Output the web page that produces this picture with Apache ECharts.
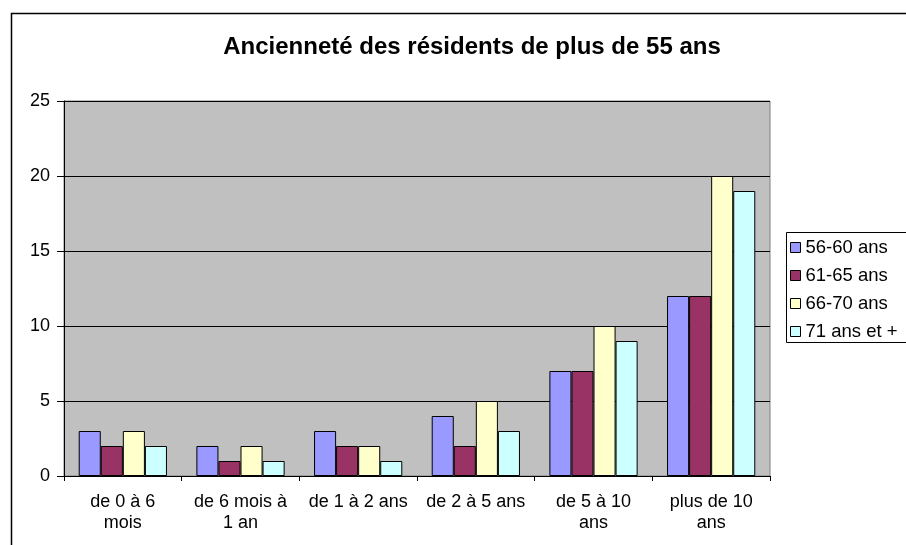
<!DOCTYPE html>
<html>
<head>
<meta charset="utf-8">
<script src="https://cdn.jsdelivr.net/npm/echarts@6/dist/echarts.min.js"></script>
<style>
html, body { margin: 0; padding: 0; background: #fff; }
#chart { width: 906px; height: 545px; }
</style>
</head>
<body>
<div id="chart"></div>
<script>
var categories = ['de 0 à 6\nmois', 'de 6 mois à\n1 an', 'de 1 à 2 ans', 'de 2 à 5 ans', 'de 5 à 10\nans', 'plus de 10\nans']
var seriesNames = ['56-60 ans', '61-65 ans', '66-70 ans', '71 ans et +']
var ans56a60 = [3, 2, 3, 4, 7, 12]
var ans61a65 = [2, 1, 2, 2, 7, 12]
var ans66a70 = [3, 2, 2, 5, 10, 20]
var ans71plus = [2, 1, 1, 3, 9, 19]
var colors = ['#9999FF', '#993366', '#FFFFCC', '#CCFFFF']

var font = 'Liberation Sans, Arial, sans-serif'
var chart = echarts.init(document.getElementById('chart'))

function bar (name, data, color) {
  return {
    name: name,
    type: 'bar',
    data: data,
    barGap: '0%',
    barCategoryGap: '25%',
    itemStyle: { color: color, borderColor: '#000', borderWidth: 1 }
  }
}

var option = {
  animation: false,
  color: colors,
  title: {
    text: 'Ancienneté des résidents de plus de 55 ans',
    left: 467,
    textAlign: 'center',
    top: 30,
    textStyle: { fontFamily: font, fontSize: 24, fontWeight: 'bold', color: '#000' }
  },
  // outer frame and legend box both run off the right edge, as in the original
  graphic: [{
    type: 'rect',
    shape: { x: 11.5, y: 13.5, width: 1000, height: 1000 },
    style: { fill: 'none', stroke: '#000', lineWidth: 1.5 },
    silent: true
  }, {
    type: 'rect',
    shape: { x: 786.5, y: 232.5, width: 200, height: 110 },
    style: { fill: '#fff', stroke: '#000', lineWidth: 1 },
    silent: true,
    z: 1
  }],
  legend: {
    orient: 'vertical',
    left: 786,
    top: 232,
    z: 10,
    itemWidth: 10,
    itemHeight: 10,
    itemGap: 9,
    padding: [6, 4, 8, 4],
    icon: 'rect',
    itemStyle: { borderColor: '#000', borderWidth: 1 },
    textStyle: { fontFamily: font, fontSize: 18.5, color: '#000' },
    data: seriesNames
  },
  grid: {
    left: 64,
    right: 136,
    top: 101,
    bottom: 69,
    show: true,
    backgroundColor: '#C0C0C0',
    borderColor: '#808080',
    borderWidth: 1
  },
  xAxis: {
    type: 'category',
    data: categories,
    axisLine: { lineStyle: { color: '#000', width: 1 } },
    axisTick: { show: true, length: 5, lineStyle: { color: '#000' } },
    axisLabel: { fontFamily: font, fontSize: 18, color: '#000', lineHeight: 21, margin: 16, interval: 0 }
  },
  yAxis: {
    type: 'value',
    min: 0,
    max: 25,
    interval: 5,
    axisLine: { show: true, lineStyle: { color: '#000', width: 1 } },
    axisTick: { show: true, length: 7, lineStyle: { color: '#000' } },
    axisLabel: { fontFamily: font, fontSize: 18, color: '#000', margin: 14 },
    splitLine: { lineStyle: { color: '#000', width: 1 } }
  },
  series: [
    bar(seriesNames[0], ans56a60, colors[0]),
    bar(seriesNames[1], ans61a65, colors[1]),
    bar(seriesNames[2], ans66a70, colors[2]),
    bar(seriesNames[3], ans71plus, colors[3])
  ]
}
chart.setOption(option)
</script>
</body>
</html>
